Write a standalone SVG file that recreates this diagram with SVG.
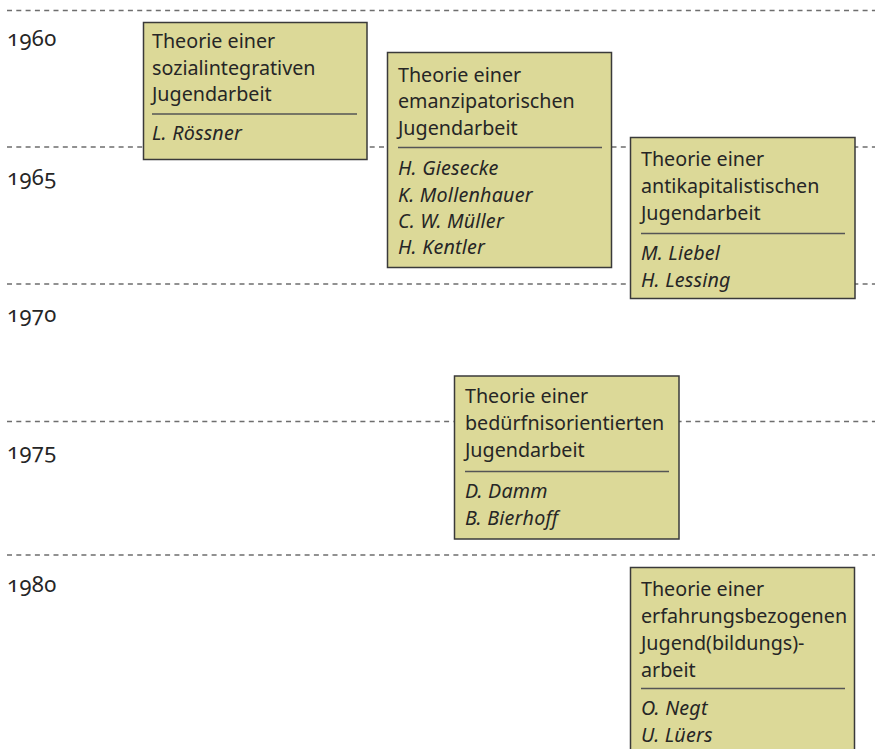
<svg xmlns="http://www.w3.org/2000/svg" width="875" height="749" viewBox="0 0 875 749">
<style>
.grid{stroke:#6e6e6e;stroke-width:1.3;stroke-dasharray:5 4.3;fill:none}
.box{fill:#dcd998;stroke:#3a3a3a;stroke-width:1.5}
.sep{stroke:#555;stroke-width:1.3}
text{font-family:"Noto Sans","Open Sans",sans-serif;font-size:19.7px;fill:#262626}
.yr{font-size:22px;letter-spacing:0.4px;font-variant-numeric:oldstyle-nums;font-feature-settings:"onum" 1}
.it{font-style:italic;letter-spacing:0.2px}
</style>
<rect width="875" height="749" fill="#fff"/>
<g id="timeline">
<line class="grid" x1="7" y1="10.5" x2="875" y2="10.5"/>
<line class="grid" x1="7" y1="147" x2="875" y2="147"/>
<line class="grid" x1="7" y1="284" x2="875" y2="284"/>
<line class="grid" x1="7" y1="421.5" x2="875" y2="421.5"/>
<line class="grid" x1="7" y1="555" x2="875" y2="555"/>
<text class="yr" x="7" y="46">1960</text>
<text class="yr" x="7" y="185">1965</text>
<text class="yr" x="7" y="321.5">1970</text>
<text class="yr" x="7" y="459">1975</text>
<text class="yr" x="7" y="592">1980</text>
</g>
<g id="n1">
<rect class="box" x="143.5" y="22.5" width="223.5" height="137"/>
<text x="152" y="48">Theorie einer</text>
<text x="152" y="74.5">sozialintegrativen</text>
<text x="152" y="101">Jugendarbeit</text>
<line class="sep" x1="152" y1="114" x2="357" y2="114"/>
<text class="it" x="152" y="140">L. Rössner</text>
</g>
<g id="n2">
<rect class="box" x="387.5" y="52.5" width="224" height="215"/>
<text x="398" y="81.5">Theorie einer</text>
<text x="398" y="108">emanzipatorischen</text>
<text x="398" y="135">Jugendarbeit</text>
<line class="sep" x1="398" y1="147.5" x2="602" y2="147.5"/>
<text class="it" x="398" y="175">H. Giesecke</text>
<text class="it" x="398" y="201.5">K. Mollenhauer</text>
<text class="it" x="398" y="228">C. W. Müller</text>
<text class="it" x="398" y="254">H. Kentler</text>
</g>
<g id="n3">
<rect class="box" x="630.5" y="137.5" width="224.5" height="161"/>
<text x="641" y="166">Theorie einer</text>
<text x="641" y="193">antikapitalistischen</text>
<text x="641" y="220">Jugendarbeit</text>
<line class="sep" x1="641" y1="233.5" x2="845" y2="233.5"/>
<text class="it" x="641" y="260">M. Liebel</text>
<text class="it" x="641" y="286.5">H. Lessing</text>
</g>
<g id="n4">
<rect class="box" x="454.5" y="376" width="224.5" height="163"/>
<text x="465" y="403">Theorie einer</text>
<text x="465" y="430">bedürfnisorientierten</text>
<text x="465" y="457">Jugendarbeit</text>
<line class="sep" x1="465" y1="471.5" x2="669" y2="471.5"/>
<text class="it" x="465" y="498">D. Damm</text>
<text class="it" x="465" y="525">B. Bierhoff</text>
</g>
<g id="n5">
<rect class="box" x="630.5" y="567.5" width="224" height="200"/>
<text x="641" y="596">Theorie einer</text>
<text x="641" y="623">erfahrungsbezogenen</text>
<text x="641" y="650">Jugend(bildungs)-</text>
<text x="641" y="676.5">arbeit</text>
<line class="sep" x1="641" y1="688.5" x2="845" y2="688.5"/>
<text class="it" x="641" y="715">O. Negt</text>
<text class="it" x="641" y="741.5">U. Lüers</text>
</g>
</svg>
